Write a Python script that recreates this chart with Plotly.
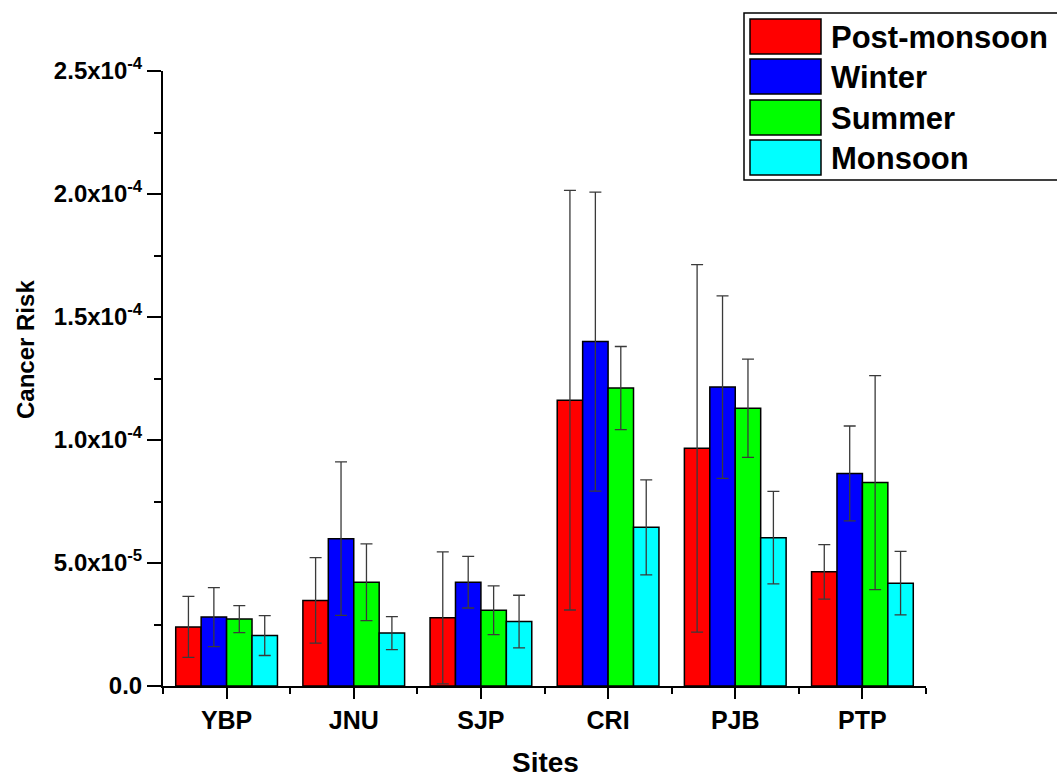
import plotly.graph_objects as go

# Sampling sites along the x axis
sites = ["YBP", "JNU", "SJP", "CRI", "PJB", "PTP"]

# Seasonal cancer risk (units of 1e-5) and their standard deviations
seasons = ["Post-monsoon", "Winter", "Summer", "Monsoon"]
post_monsoon = [2.40, 3.48, 2.77, 11.62, 9.66, 4.64]
post_monsoon_sd = [1.24, 1.74, 2.68, 8.53, 7.47, 1.11]
winter = [2.80, 5.99, 4.22, 14.00, 12.15, 8.64]
winter_sd = [1.20, 3.12, 1.05, 6.08, 3.71, 1.93]
summer = [2.72, 4.22, 3.08, 12.11, 11.29, 8.27]
summer_sd = [0.55, 1.56, 0.99, 1.69, 2.00, 4.35]
monsoon = [2.05, 2.15, 2.62, 6.45, 6.03, 4.18]
monsoon_sd = [0.81, 0.67, 1.07, 1.93, 1.88, 1.29]

# Y axis tick labels
y_tickvals = [0, 5e-5, 1e-4, 1.5e-4, 2e-4, 2.5e-4]
y_ticktext = ["0.0", "5.0x10<sup>-5</sup>", "1.0x10<sup>-4</sup>",
              "1.5x10<sup>-4</sup>", "2.0x10<sup>-4</sup>", "2.5x10<sup>-4</sup>"]

colors = ["#FF0000", "#0000FF", "#00FF00", "#00FFFF"]
FONT = "Arial, Liberation Sans, sans-serif"
SCALE = 1e-5

W, H = 1057, 780
ML, MR, MT, MB = 163, 131, 71, 94
PW, PH = W - ML - MR, H - MT - MB


def px(x):
    return (x - ML) / PW


def py(y):
    return (H - MB - y) / PH


xpos = list(range(len(sites)))
series = [(post_monsoon, post_monsoon_sd), (winter, winter_sd),
          (summer, summer_sd), (monsoon, monsoon_sd)]

fig = go.Figure()
for name, (vals, sds), col in zip(seasons, series, colors):
    fig.add_trace(go.Bar(
        x=xpos,
        y=[v * SCALE for v in vals],
        name=name,
        marker=dict(color=col, line=dict(color="black", width=1.5)),
        error_y=dict(type="data", array=[s * SCALE for s in sds],
                     color="#3a3a3a", thickness=1.3, width=6, visible=True),
        showlegend=False,
    ))

fig.update_layout(
    width=W, height=H,
    margin=dict(l=ML, r=MR, t=MT, b=MB),
    paper_bgcolor="white", plot_bgcolor="white",
    barmode="group", bargap=0.2, bargroupgap=0,
    font=dict(family=FONT, color="black"),
)

fig.update_xaxes(
    range=[-0.5, len(sites) - 0.5],
    tickmode="array", tickvals=xpos,
    ticktext=[f"<b>{s}</b>" for s in sites],
    tickfont=dict(size=25, family=FONT, color="black"),
    showline=True, linecolor="black", linewidth=2,
    ticks="outside", ticklen=11, tickwidth=2, tickcolor="black",
    minor=dict(tickmode="array",
               tickvals=[p - 0.5 for p in xpos] + [xpos[-1] + 0.5],
               ticks="outside", ticklen=6, tickwidth=2, tickcolor="black"),
    showgrid=False, zeroline=False,
)

fig.update_yaxes(
    range=[0, 2.5e-4],
    tickmode="array", tickvals=y_tickvals,
    ticktext=[f"<b>{t}</b>" for t in y_ticktext],
    tickfont=dict(size=24, family=FONT, color="black"),
    showline=True, linecolor="black", linewidth=2,
    ticks="outside", ticklen=14, tickwidth=2, tickcolor="black",
    minor=dict(tickmode="array",
               tickvals=[2.5e-5, 7.5e-5, 1.25e-4, 1.75e-4, 2.25e-4],
               ticks="outside", ticklen=7, tickwidth=2, tickcolor="black"),
    showgrid=False, zeroline=False,
)

annotations = [
    dict(text="<b>Cancer Risk</b>", x=px(25), y=py(350), xref="paper", yref="paper",
         textangle=-90, showarrow=False, xanchor="center", yanchor="middle",
         font=dict(size=24, family=FONT, color="black")),
    dict(text="<b>Sites</b>", x=px(545), y=py(762), xref="paper", yref="paper",
         showarrow=False, xanchor="center", yanchor="middle",
         font=dict(size=28, family=FONT, color="black")),
]

# Legend box with large swatches
shapes = [dict(type="rect", xref="paper", yref="paper",
               x0=px(744), x1=px(1070), y0=py(180), y1=py(13),
               line=dict(color="black", width=1.5), fillcolor="white", layer="above")]
row_tops = [19, 59, 100, 140]
for name, col, top in zip(seasons, colors, row_tops):
    shapes.append(dict(type="rect", xref="paper", yref="paper",
                       x0=px(750), x1=px(821), y0=py(top + 35), y1=py(top),
                       line=dict(color="black", width=1.5), fillcolor=col, layer="above"))
    annotations.append(dict(text=f"<b>{name}</b>", x=px(829), y=py(top + 18),
                            xref="paper", yref="paper", showarrow=False,
                            xanchor="left", yanchor="middle",
                            font=dict(size=31, family=FONT, color="black")))

fig.update_layout(shapes=shapes, annotations=annotations)

fig.write_html("out.html")
